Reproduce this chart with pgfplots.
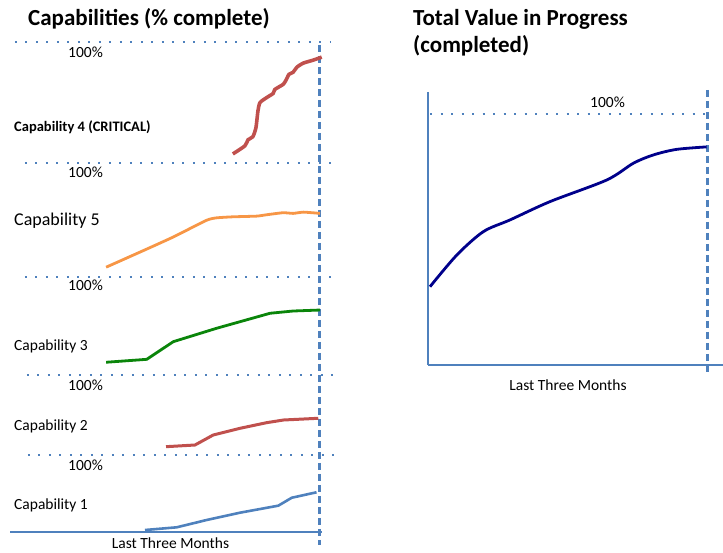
\documentclass[border=0pt]{standalone}
\usepackage{fontspec}
\setmainfont{Carlito}
\usepackage{pgfplots}
\pgfplotsset{compat=1.18}
\definecolor{axblue}{HTML}{4F81BD}
\definecolor{capred}{HTML}{C0504D}
\definecolor{caporange}{HTML}{F79646}
\definecolor{capgreen}{HTML}{0A850A}
\definecolor{navyline}{HTML}{00008B}
\tikzset{
  dotline/.style={axblue, line width=2.8pt, dash pattern=on 2pt off 8.5pt},
  dashline/.style={axblue, line width=3pt, dash pattern=on 7.5pt off 3.5pt},
  lbl/.style={anchor=base west, inner sep=0pt, font=\fontsize{15.5}{18}\selectfont},
}
\pgfplotsset{band/.style={scale only axis, width=310pt, xmin=0, xmax=90, ymin=0, ymax=100,
  axis lines=none, clip=false, anchor=south west}}
\begin{document}
\begin{tikzpicture}
\path[use as bounding box] (0,0) rectangle (723pt,-552pt);
% ---------- left frame ----------
\begin{axis}[band, at={(10pt,-532pt)}, height=490pt]
\draw[axblue, line width=2.6pt] (axis cs:0,0) -- (axis cs:90.6,0);
\draw[dashline] (axis cs:90,99.4) -- (axis cs:90,-2.65);
\end{axis}
% ---------- Capability 4 ----------
\begin{axis}[band, at={(10pt,-163pt)}, height=121pt]
\draw[dotline] (axis cs:1.45,100) -- (axis cs:93,100);
\addplot[capred, line width=3.6pt, smooth, tension=0.4] coordinates {
(64.7,7.5) (68.2,14.2) (69.1,19.2) (70.5,21.7) (71.4,29.2) (72.0,43.3) (72.6,50)
(74.6,54.2) (76.4,57.5) (76.9,60.8) (79.3,65) (80.1,68.3) (81.0,73.3) (82.2,75)
(83.3,79.2) (85.1,82.5) (88.0,85) (90.5,87.5)};
\end{axis}
% ---------- Capability 5 ----------
\begin{axis}[band, at={(10pt,-277pt)}, height=114pt]
\draw[dotline] (axis cs:4.35,100) -- (axis cs:94.4,100);
\addplot[caporange, line width=2.8pt, smooth, tension=0.3] coordinates {
(27.9,8.6) (39.7,24.5) (47.4,35.1) (57.1,49.8) (60.0,51.9) (64.7,52.8) (71.6,53.4)
(74.5,54.6) (79.3,56.4) (82.2,55.8) (85.2,56.9) (90,55.8)};
\end{axis}
% ---------- Capability 3 ----------
\begin{axis}[band, at={(10pt,-375pt)}, height=98pt]
\draw[dotline] (axis cs:4.35,100) -- (axis cs:94.4,100);
\addplot[capgreen, line width=2.8pt] coordinates {
(27.9,13.0) (39.7,16.0) (47.4,34.0) (60.0,47.7) (75.5,63.0) (82.2,65.3) (90,66.3)};
\end{axis}
% ---------- Capability 2 ----------
\begin{axis}[band, at={(10pt,-455pt)}, height=80pt]
\draw[dotline] (axis cs:4.9,100) -- (axis cs:94.4,100);
\addplot[capred, line width=3pt] coordinates {
(45.3,10.4) (53.7,12.5) (59.0,25) (66.8,33.4) (74.5,40.4) (79.4,43.75) (89.5,45.9)};
\end{axis}
% ---------- Capability 1 ----------
\begin{axis}[band, at={(10pt,-532pt)}, height=77pt]
\draw[dotline] (axis cs:5.2,100) -- (axis cs:94.4,100);
\addplot[axblue, line width=2.6pt] coordinates {
(39.2,2.6) (48.4,6.1) (57.1,15.6) (66.8,25.1) (77.9,34.2) (81.8,44.5) (89.0,51.6)};
\end{axis}
% ---------- right panel ----------
\begin{axis}[scale only axis, width=277pt, height=251pt, at={(430pt,-365pt)}, anchor=south west,
  xmin=0, xmax=90, ymin=0, ymax=100, axis lines=none, clip=false]
\draw[axblue, line width=2.6pt] (axis cs:-0.65,108.8) -- (axis cs:-0.65,0);
\draw[axblue, line width=2.6pt] (axis cs:-0.65,0) -- (axis cs:95.2,0);
\draw[dashline] (axis cs:90,109.6) -- (axis cs:90,-2.8);
\draw[dotline] (axis cs:0,100) -- (axis cs:90,100);
\addplot[navyline, line width=2.8pt, smooth, tension=0.5] coordinates {
(0,31.2) (8.7,43.8) (17.3,53.1) (26.0,57.8) (39.0,65.1) (57.4,73.7) (66.1,80.4)
(72.6,83.7) (80.1,85.9) (89.9,86.9)};
\end{axis}
% ---------- texts ----------
\node[anchor=base west, inner sep=0pt, font=\bfseries\fontsize{23}{27}\selectfont] at (28pt,-25pt) {Capabilities (\% complete)};
\node[anchor=base west, inner sep=0pt, font=\bfseries\fontsize{23}{27}\selectfont] at (413pt,-25pt) {Total Value in Progress};
\node[anchor=base west, inner sep=0pt, font=\bfseries\fontsize{23}{27}\selectfont] at (413pt,-52pt) {(completed)};
\node[lbl] at (68pt,-57pt) {100\%};
\node[lbl] at (68pt,-177pt) {100\%};
\node[lbl] at (68pt,-290pt) {100\%};
\node[lbl] at (68pt,-390pt) {100\%};
\node[lbl] at (68pt,-470pt) {100\%};
\node[lbl] at (590pt,-107pt) {100\%};
\node[anchor=base west, inner sep=0pt, font=\bfseries\fontsize{14.5}{17}\selectfont] at (14pt,-131.5pt) {Capability 4 (CRITICAL)};
\node[anchor=base west, inner sep=0pt, font=\fontsize{18}{21}\selectfont] at (14pt,-225.5pt) {Capability 5};
\node[lbl] at (14pt,-350.5pt) {Capability 3};
\node[lbl] at (14pt,-430pt) {Capability 2};
\node[lbl] at (14pt,-509pt) {Capability 1};
\node[lbl, anchor=base] at (170.5pt,-548pt) {Last Three Months};
\node[lbl, anchor=base] at (568pt,-390pt) {Last Three Months};
\end{tikzpicture}
\end{document}
